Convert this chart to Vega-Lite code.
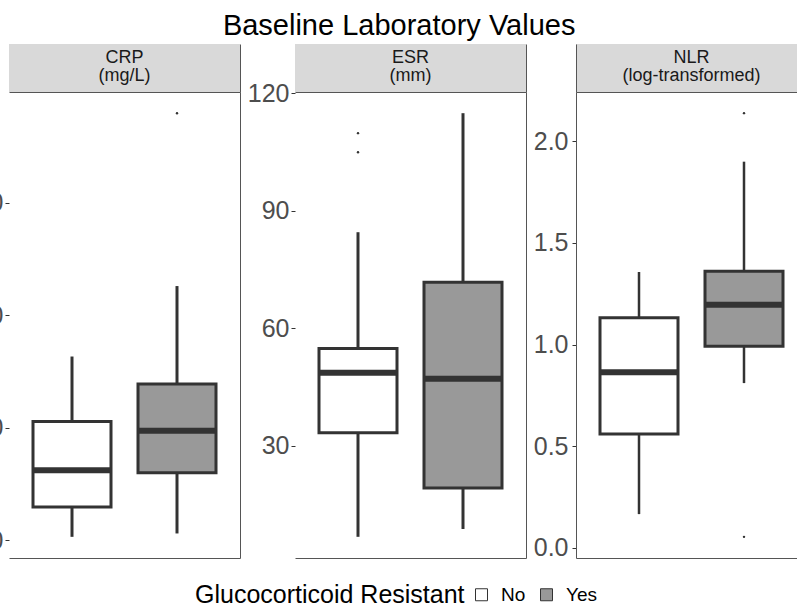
{
  "$schema": "https://vega.github.io/schema/vega-lite/v6.json",
  "padding": {"left": -39, "right": -10, "top": 12, "bottom": 4},
  "title": {"text": "Baseline Laboratory Values", "fontSize": 29, "fontWeight": "normal", "color": "#000000", "anchor": "middle", "offset": 3, "dx": 15},
  "config": {
    "font": "Liberation Sans",
    "view": {"stroke": null},
    "axis": {"grid": false, "labelFontSize": 25, "labelColor": "#4d4d4d", "tickColor": "#333333", "tickSize": 4, "labelPadding": 2, "domainColor": "#555555", "domainWidth": 1}
  },
  "datasets": {
    "boxes": [
      {"panel": "CRP", "group": "No", "lower": 1.5, "q1": 14.8, "median": 31.1, "q3": 52.7, "upper": 81.6},
      {"panel": "CRP", "group": "Yes", "lower": 3.0, "q1": 30.0, "median": 48.6, "q3": 69.4, "upper": 112.9},
      {"panel": "ESR", "group": "No", "lower": 6.7, "q1": 33.3, "median": 48.6, "q3": 54.8, "upper": 84.5},
      {"panel": "ESR", "group": "Yes", "lower": 8.7, "q1": 19.2, "median": 47.1, "q3": 71.7, "upper": 114.9},
      {"panel": "NLR", "group": "No", "lower": 0.165, "q1": 0.56, "median": 0.864, "q3": 1.132, "upper": 1.357},
      {"panel": "NLR", "group": "Yes", "lower": 0.81, "q1": 0.991, "median": 1.196, "q3": 1.361, "upper": 1.9}
    ],
    "outliers": [
      {"panel": "CRP", "group": "Yes", "value": 189.7},
      {"panel": "ESR", "group": "No", "value": 109.8},
      {"panel": "ESR", "group": "No", "value": 104.9},
      {"panel": "NLR", "group": "Yes", "value": 2.139},
      {"panel": "NLR", "group": "Yes", "value": 0.053}
    ],
    "strips": [
      {"panel": "CRP", "label": "CRP\n(mg/L)"},
      {"panel": "ESR", "label": "ESR\n(mm)"},
      {"panel": "NLR", "label": "NLR\n(log-transformed)"}
    ]
  },
  "columns": 3,
  "spacing": {"row": -14, "column": 7},
  "concat": [
    {
      "width": 231, "height": 48,
      "data": {"name": "strips"},
      "transform": [{"filter": "datum.panel === 'CRP'"}],
      "view": {"fill": "#d9d9d9", "stroke": null},
      "mark": {"type": "text", "lineBreak": "\n", "fontSize": 18, "lineHeight": 18, "color": "#1a1a1a", "baseline": "middle", "dy": -10},
      "encoding": {
        "text": {"field": "label"},
        "x": {"field": "panel", "type": "nominal", "axis": {"orient": "bottom", "labels": false, "ticks": false, "title": null}},
        "y": {"field": "panel", "type": "nominal", "axis": {"orient": "right", "labels": false, "ticks": false, "title": null}}
      }
    },
    {
      "width": 231, "height": 48,
      "data": {"name": "strips"},
      "transform": [{"filter": "datum.panel === 'ESR'"}],
      "view": {"fill": "#d9d9d9", "stroke": null},
      "mark": {"type": "text", "lineBreak": "\n", "fontSize": 18, "lineHeight": 18, "color": "#1a1a1a", "baseline": "middle", "dy": -10},
      "encoding": {
        "text": {"field": "label"},
        "x": {"field": "panel", "type": "nominal", "axis": {"orient": "bottom", "labels": false, "ticks": false, "title": null}},
        "y": {"field": "panel", "type": "nominal", "axis": {"orient": "right", "labels": false, "ticks": false, "title": null}}
      }
    },
    {
      "width": 231, "height": 48,
      "data": {"name": "strips"},
      "transform": [{"filter": "datum.panel === 'NLR'"}],
      "view": {"fill": "#d9d9d9", "stroke": null},
      "mark": {"type": "text", "lineBreak": "\n", "fontSize": 18, "lineHeight": 18, "color": "#1a1a1a", "baseline": "middle", "dy": -10},
      "encoding": {
        "text": {"field": "label"},
        "x": {"field": "panel", "type": "nominal", "axis": {"orient": "bottom", "labels": false, "ticks": false, "title": null}},
        "y": {"field": "panel", "type": "nominal", "axis": {"orient": "left", "labels": false, "ticks": false, "title": null}}
      }
    },
    {
      "width": 231, "height": 466,
      "resolve": {"axis": {"y": "independent"}},
      "encoding": {
        "x": {"field": "group", "type": "nominal", "scale": {"type": "band", "paddingInner": 0, "paddingOuter": 0.1}, "axis": {"orient": "bottom", "labels": false, "ticks": false, "title": null}}
      },
      "layer": [
        {"data": {"name": "boxes"}, "transform": [{"filter": "datum.panel === 'CRP'"}],
         "mark": {"type": "rule", "color": "#333333", "strokeWidth": 3},
         "encoding": {"y": {"field": "lower", "type": "quantitative", "scale": {"domain": [-7.9, 199.1], "nice": false, "zero": false}, "axis": {"orient": "left", "values": [0, 50, 100, 150], "domain": false, "title": null}}, "y2": {"field": "q1"}}},
        {"data": {"name": "boxes"}, "transform": [{"filter": "datum.panel === 'CRP'"}],
         "mark": {"type": "rule", "color": "#333333", "strokeWidth": 3},
         "encoding": {"y": {"field": "q3", "type": "quantitative", "axis": null}, "y2": {"field": "upper"}}},
        {"data": {"name": "boxes"}, "transform": [{"filter": "datum.panel === 'CRP'"}],
         "mark": {"type": "bar", "size": 78, "stroke": "#333333", "strokeWidth": 3},
         "encoding": {"y": {"field": "q1", "type": "quantitative", "axis": null}, "y2": {"field": "q3"},
           "fill": {"field": "group", "type": "nominal", "scale": {"domain": ["No", "Yes"], "range": ["#ffffff", "#999999"]},
             "legend": {"orient": "none", "legendX": 186, "legendY": 541, "direction": "horizontal", "titleOrient": "left", "title": "Glucocorticoid Resistant", "titleLimit": 500, "titleFontSize": 25, "titleFontWeight": "normal", "titleColor": "#000000", "labelFontSize": 19, "labelColor": "#000000", "symbolType": "square", "symbolSize": 144, "symbolStrokeColor": "#888888", "symbolStrokeWidth": 1, "titlePadding": 7, "labelOffset": 10, "columnPadding": 11}}}},
        {"data": {"name": "boxes"}, "transform": [{"filter": "datum.panel === 'CRP'"}],
         "mark": {"type": "tick", "size": 78, "thickness": 6, "color": "#333333", "opacity": 1},
         "encoding": {"y": {"field": "median", "type": "quantitative", "axis": null}}},
        {"data": {"name": "outliers"}, "transform": [{"filter": "datum.panel === 'CRP'"}],
         "mark": {"type": "point", "filled": true, "size": 6, "color": "#333333", "opacity": 1},
         "encoding": {"y": {"field": "value", "type": "quantitative", "axis": {"orient": "right", "labels": false, "ticks": false, "title": null}}}}
      ]
    },
    {
      "width": 231, "height": 466,
      "resolve": {"axis": {"y": "independent"}},
      "encoding": {
        "x": {"field": "group", "type": "nominal", "scale": {"type": "band", "paddingInner": 0, "paddingOuter": 0.1}, "axis": {"orient": "bottom", "labels": false, "ticks": false, "title": null}}
      },
      "layer": [
        {"data": {"name": "boxes"}, "transform": [{"filter": "datum.panel === 'ESR'"}],
         "mark": {"type": "rule", "color": "#333333", "strokeWidth": 3},
         "encoding": {"y": {"field": "lower", "type": "quantitative", "scale": {"domain": [1.29, 120.31], "nice": false, "zero": false}, "axis": {"orient": "left", "values": [30, 60, 90, 120], "domain": false, "title": null}}, "y2": {"field": "q1"}}},
        {"data": {"name": "boxes"}, "transform": [{"filter": "datum.panel === 'ESR'"}],
         "mark": {"type": "rule", "color": "#333333", "strokeWidth": 3},
         "encoding": {"y": {"field": "q3", "type": "quantitative", "axis": null}, "y2": {"field": "upper"}}},
        {"data": {"name": "boxes"}, "transform": [{"filter": "datum.panel === 'ESR'"}],
         "mark": {"type": "bar", "size": 78, "stroke": "#333333", "strokeWidth": 3},
         "encoding": {"y": {"field": "q1", "type": "quantitative", "axis": null}, "y2": {"field": "q3"},
           "fill": {"field": "group", "type": "nominal", "scale": {"domain": ["No", "Yes"], "range": ["#ffffff", "#999999"]}}}},
        {"data": {"name": "boxes"}, "transform": [{"filter": "datum.panel === 'ESR'"}],
         "mark": {"type": "tick", "size": 78, "thickness": 6, "color": "#333333", "opacity": 1},
         "encoding": {"y": {"field": "median", "type": "quantitative", "axis": null}}},
        {"data": {"name": "outliers"}, "transform": [{"filter": "datum.panel === 'ESR'"}],
         "mark": {"type": "point", "filled": true, "size": 6, "color": "#333333", "opacity": 1},
         "encoding": {"y": {"field": "value", "type": "quantitative", "axis": {"orient": "right", "labels": false, "ticks": false, "title": null}}}}
      ]
    },
    {
      "width": 231, "height": 466,
      "resolve": {"axis": {"y": "independent"}},
      "encoding": {
        "x": {"field": "group", "type": "nominal", "scale": {"type": "band", "paddingInner": 0, "paddingOuter": 0.1}, "axis": {"orient": "bottom", "labels": false, "ticks": false, "title": null}}
      },
      "layer": [
        {"data": {"name": "boxes"}, "transform": [{"filter": "datum.panel === 'NLR'"}],
         "mark": {"type": "rule", "color": "#333333", "strokeWidth": 2.5},
         "encoding": {"y": {"field": "lower", "type": "quantitative", "scale": {"domain": [-0.051, 2.243], "nice": false, "zero": false}, "axis": {"orient": "left", "values": [0, 0.5, 1, 1.5, 2], "format": ".1f", "domain": true, "title": null, "labelPadding": 4}}, "y2": {"field": "q1"}}},
        {"data": {"name": "boxes"}, "transform": [{"filter": "datum.panel === 'NLR'"}],
         "mark": {"type": "rule", "color": "#333333", "strokeWidth": 2.5},
         "encoding": {"y": {"field": "q3", "type": "quantitative", "axis": null}, "y2": {"field": "upper"}}},
        {"data": {"name": "boxes"}, "transform": [{"filter": "datum.panel === 'NLR'"}],
         "mark": {"type": "bar", "size": 78, "stroke": "#333333", "strokeWidth": 3},
         "encoding": {"y": {"field": "q1", "type": "quantitative", "axis": null}, "y2": {"field": "q3"},
           "fill": {"field": "group", "type": "nominal", "scale": {"domain": ["No", "Yes"], "range": ["#ffffff", "#999999"]}}}},
        {"data": {"name": "boxes"}, "transform": [{"filter": "datum.panel === 'NLR'"}],
         "mark": {"type": "tick", "size": 78, "thickness": 6, "color": "#333333", "opacity": 1},
         "encoding": {"y": {"field": "median", "type": "quantitative", "axis": null}}},
        {"data": {"name": "outliers"}, "transform": [{"filter": "datum.panel === 'NLR'"}],
         "mark": {"type": "point", "filled": true, "size": 6, "color": "#333333", "opacity": 1},
         "encoding": {"y": {"field": "value", "type": "quantitative", "axis": null}}}
      ]
    }
  ]
}
